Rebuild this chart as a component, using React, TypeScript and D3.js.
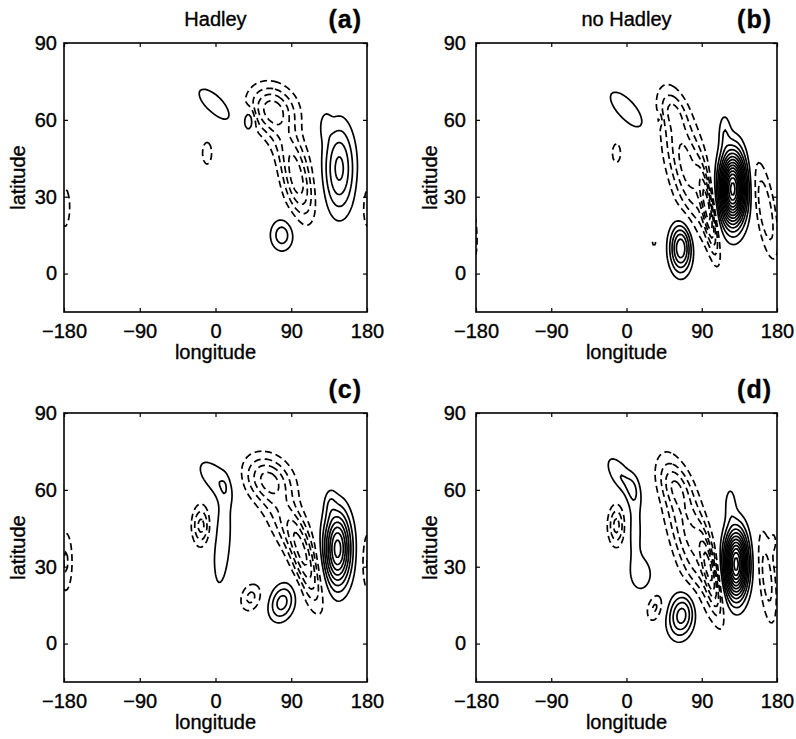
import { useEffect, useRef } from "react";
import * as d3 from "d3";

// each feature: [lon, lat, amplitude, lon spread, lat spread, tilt (deg lon per deg lat)]
type Feature = [number, number, number, number, number, number];

const hadleyFeatures: Feature[] = [
  [-1, 66, 1.8, 12, 5.5, -2.2],
  [40, 60, 2.9, 4.5, 3, 0],
  [-10, 47, -1.2, 9, 7, 0],
  [147, 41, 4.3, 12.8, 12, 0],
  [130, 58, 1.1, 5, 4, 0],
  [79, 15, 2.6, 10, 4.5, 0],
  [68, 64, -4.5, 19, 6.5, -0.5],
  [97, 36, -4.5, 12, 10, -0.6],
  [85, 50, -1.5, 14, 7, -1.1],
  [181, 26, -1.6, 6, 8, 0],
];

const noHadleyFeatures: Feature[] = [
  [0, 64, 1.9, 12, 6, -2.0],
  [39, 60, 2.4, 2, 1.5, 0],
  [-12, 47, -1.2, 8, 6, 0],
  [127, 33, 14.5, 10.5, 9.5, 0],
  [117, 56, 1.5, 5, 5, 0],
  [65, 10, 6, 9, 6.5, 0],
  [72, 42, -4.5, 15, 17, -0.7],
  [98, 24, -5, 5, 11, -0.5],
  [55, 64, -1.5, 10, 5, -0.8],
  [166, 25, -3, 8, 13, -0.5],
  [33, 12, -1.15, 4, 2, 0],
];

const panelCFeatures: Feature[] = [
  [-3, 65, 1.7, 12, 5.5, -1.5],
  [11, 61, 0.45, 3.5, 3.5, 0],
  [8, 40, 1.5, 10, 18, 0.2],
  [-17, 46, -3.4, 7.5, 5.5, 0],
  [145, 37, 8.5, 11, 10, 0],
  [136, 55, 1.1, 5, 4, 0],
  [79, 16, 3.5, 10.5, 5, 0.5],
  [42, 18, -2.3, 9, 4, 0.5],
  [63, 64, -4.2, 19, 6.5, -0.7],
  [106, 32, -4.5, 10, 12, -0.8],
  [85, 46, -2.5, 15, 9, -1.2],
  [182, 32, -2.2, 6, 9, 0],
];

const panelDFeatures: Feature[] = [
  [-6, 65, 2.0, 10, 6, -1.5],
  [8, 60, 0.9, 6, 5, 0],
  [10, 44, 1.5, 7, 10, 0],
  [18, 27, 1.7, 10, 5, 0],
  [-12, 46, -3.4, 7, 5.5, 0],
  [131, 31, 12.5, 9.5, 9, 0],
  [124, 55, 1.4, 5, 5, 0],
  [66, 11, 4.6, 11, 6, 0.3],
  [34, 14, -2.2, 7, 4, 0.5],
  [75, 42, -4.2, 15, 18, -0.8],
  [100, 28, -4.5, 6, 11, -0.6],
  [58, 62, -2, 12, 6, -0.9],
  [168, 26, -2.6, 7, 13, -0.3],
  [-184, 40, -1.1, 3, 3, 0],
];

const lonTicks = [-180, -90, 0, 90, 180];
const latTicks = [0, 30, 60, 90];
const panelTitles = ["Hadley", "no Hadley", "", ""];
const panelTags = ["(a)", "(b)", "(c)", "(d)"];
const contourLevels = d3.range(1, 20);

const FONT = "'Liberation Sans', Arial, Helvetica, sans-serif";
const W = 796;
const H = 739;

// sampling grid, a bit wider than the plotted domain
const LON0 = -186;
const LAT0 = -21;
const DLON = 2;
const DLAT = 1;
const NX = 187;
const NY = 118;

const field = (features: Feature[], lon: number, lat: number) => {
  let v = 0;
  for (const [lo, la, a, sx, sy, t] of features) {
    const dlon = ((((lon - lo) % 360) + 540) % 360) - 180;
    const dlat = lat - la;
    const u = dlon - t * dlat;
    v += a * Math.exp(-(u * u) / (2 * sx * sx) - (dlat * dlat) / (2 * sy * sy));
  }
  return v;
};

const grid = (features: Feature[], sign: number) => {
  const values = new Array(NX * NY);
  for (let j = 0; j < NY; j++) {
    for (let i = 0; i < NX; i++) {
      values[j * NX + i] = sign * field(features, LON0 + i * DLON, LAT0 + j * DLAT);
    }
  }
  return values;
};

const panels = [
  { features: hadleyFeatures, left: 64, top: 43, right: 367, bottom: 312, gap: 7 },
  { features: noHadleyFeatures, left: 476, top: 43, right: 777, bottom: 312, gap: 10 },
  { features: panelCFeatures, left: 64, top: 413, right: 367, bottom: 682, gap: 7 },
  { features: panelDFeatures, left: 476, top: 413, right: 777, bottom: 682, gap: 10 },
];

export default function App() {
  const ref = useRef<SVGSVGElement>(null);

  useEffect(() => {
    const svg = d3.select(ref.current);
    svg.selectAll("*").remove();

    panels.forEach((p, k) => {
      const x = d3.scaleLinear().domain([-180, 180]).range([p.left, p.right]);
      const y = d3.scaleLinear().domain([-15, 90]).range([p.bottom, p.top]);
      const g = svg.append("g");
      const clipId = `clip-${k}`;
      g.append("clipPath")
        .attr("id", clipId)
        .append("rect")
        .attr("x", p.left)
        .attr("y", p.top)
        .attr("width", p.right - p.left)
        .attr("height", p.bottom - p.top);

      const path = d3.geoPath(
        d3.geoTransform({
          point(gx: number, gy: number) {
            this.stream.point(x(LON0 + (gx - 0.5) * DLON), y(LAT0 + (gy - 0.5) * DLAT));
          },
        })
      );
      const gen = d3.contours().size([NX, NY]).thresholds(contourLevels);
      const pos = gen(grid(p.features, 1));
      const neg = gen(grid(p.features, -1));

      const cg = g.append("g").attr("clip-path", `url(#${clipId})`);
      cg.selectAll("path.pos")
        .data(pos)
        .join("path")
        .attr("class", "pos")
        .attr("d", (d) => path(d as any))
        .attr("fill", "none")
        .attr("stroke", "#000")
        .attr("stroke-width", 1.7);
      cg.selectAll("path.neg")
        .data(neg)
        .join("path")
        .attr("class", "neg")
        .attr("d", (d) => path(d as any))
        .attr("fill", "none")
        .attr("stroke", "#000")
        .attr("stroke-width", 1.7)
        .attr("stroke-dasharray", "7,4");

      // axes, inward ticks on all sides
      const styleAxis = (a: any) => {
        a.select(".domain").remove();
        a.selectAll("line").attr("stroke", "#000").attr("stroke-width", 1.2);
        a.selectAll("text")
          .attr("fill", "#000")
          .attr("stroke", "#000")
          .attr("stroke-width", 0.35)
          .style("font-family", FONT)
          .style("font-size", "20px");
      };
      g.append("g")
        .attr("transform", `translate(0,${p.bottom})`)
        .call(d3.axisBottom(x).tickValues(lonTicks).tickSize(-4).tickPadding(12))
        .call(styleAxis);
      g.append("g")
        .attr("transform", `translate(0,${p.top})`)
        .call(d3.axisTop(x).tickValues(lonTicks).tickSize(-4).tickFormat(() => ""))
        .call(styleAxis);
      g.append("g")
        .attr("transform", `translate(${p.left},0)`)
        .call(d3.axisLeft(y).tickValues(latTicks).tickSize(-4).tickPadding(p.gap))
        .call(styleAxis);
      g.append("g")
        .attr("transform", `translate(${p.right},0)`)
        .call(d3.axisRight(y).tickValues(latTicks).tickSize(-4).tickFormat(() => ""))
        .call(styleAxis);

      g.append("rect")
        .attr("x", p.left)
        .attr("y", p.top)
        .attr("width", p.right - p.left)
        .attr("height", p.bottom - p.top)
        .attr("fill", "none")
        .attr("stroke", "#000")
        .attr("stroke-width", 1.6);

      const label = (sel: any, size: number) =>
        sel
          .style("font-family", FONT)
          .style("font-size", `${size}px`)
          .attr("fill", "#000")
          .attr("stroke", "#000")
          .attr("stroke-width", 0.35);

      const cx = (p.left + p.right) / 2;
      g.append("text")
        .attr("x", cx)
        .attr("y", p.bottom + 47)
        .attr("text-anchor", "middle")
        .call(label, 20)
        .text("longitude");
      g.append("text")
        .attr("transform", `translate(${p.left - 39},${(p.top + p.bottom) / 2}) rotate(-90)`)
        .attr("text-anchor", "middle")
        .call(label, 20)
        .text("latitude");
      if (panelTitles[k]) {
        g.append("text")
          .attr("x", cx)
          .attr("y", p.top - 17)
          .attr("text-anchor", "middle")
          .call(label, 20)
          .text(panelTitles[k]);
      }
      g.append("text")
        .attr("x", p.right - 5)
        .attr("y", p.top - 15)
        .attr("text-anchor", "end")
        .call(label, 25)
        .style("font-weight", "bold")
        .style("letter-spacing", "1px")
        .text(panelTags[k]);
    });
  }, []);

  return (
    <svg
      ref={ref}
      width={W}
      height={H}
      style={{ position: "absolute", left: 0, top: 0, background: "#fff" }}
    />
  );
}
